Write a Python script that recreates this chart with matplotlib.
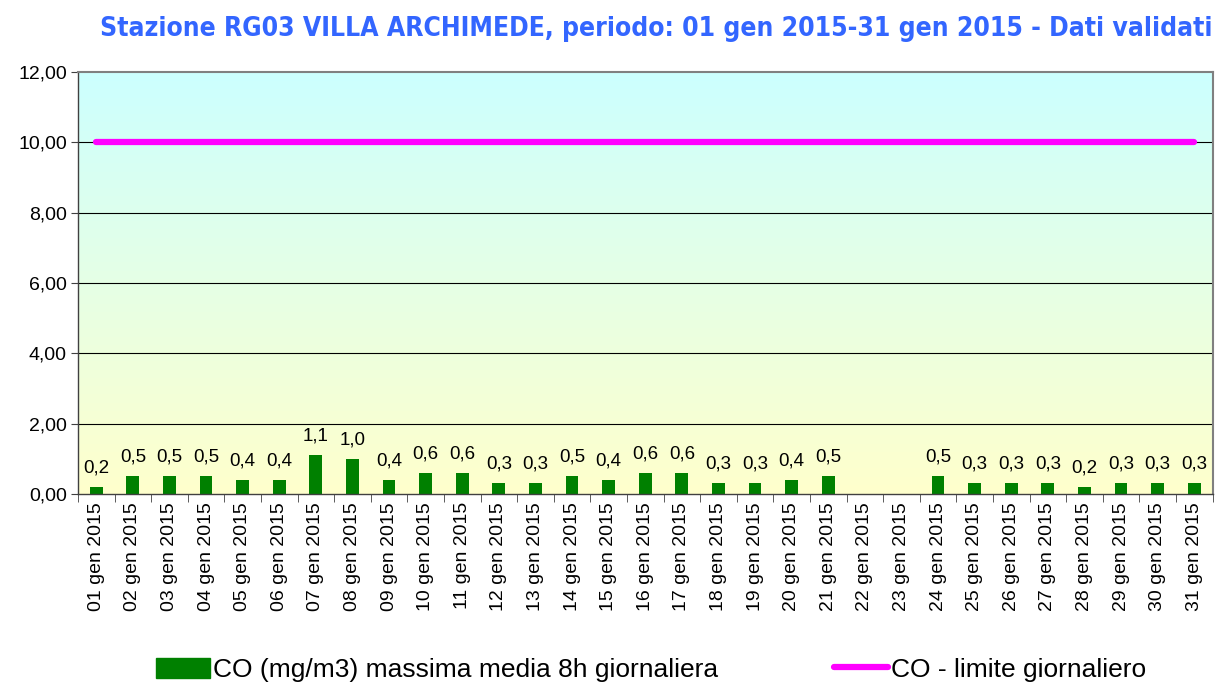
import numpy as np
import matplotlib.pyplot as plt
from matplotlib.colors import LinearSegmentedColormap
from matplotlib.lines import Line2D
from matplotlib.patches import Patch

# Data
days = [f"{d:02d} gen 2015" for d in range(1, 32)]
co_max8h = [0.2, 0.5, 0.5, 0.5, 0.4, 0.4, 1.1, 1.0, 0.4, 0.6,
            0.6, 0.3, 0.3, 0.5, 0.4, 0.6, 0.6, 0.3, 0.3, 0.4,
            0.5, None, None, 0.5, 0.3, 0.3, 0.3, 0.2, 0.3, 0.3, 0.3]
limit = [10.0] * 31

TITLE = "Stazione RG03 VILLA ARCHIMEDE, periodo: 01 gen 2015-31 gen 2015 - Dati validati"

fig = plt.figure(figsize=(12.26, 6.85), dpi=100)
ax = fig.add_axes([0.0636, 0.279, 0.9254, 0.616])

x = np.arange(len(days))
ax.set_xlim(-0.5, len(days) - 0.5)
ax.set_ylim(0, 12)

# gradient background
cmap = LinearSegmentedColormap.from_list("bg", ["#FFFFCC", "#CCFFFF"])
grad = np.linspace(0, 1, 256).reshape(-1, 1)
ax.imshow(grad, aspect="auto", cmap=cmap, origin="lower",
          extent=(-0.5, len(days) - 0.5, 0, 12), zorder=0)

for yv in [2, 4, 6, 8, 10]:
    ax.axhline(yv, color="black", lw=0.8, zorder=1)

vals = np.array([np.nan if v is None else v for v in co_max8h])
ax.bar(x, np.nan_to_num(vals), width=0.35, color="#008000", zorder=2)
for xi, v in zip(x, co_max8h):
    if v is None:
        continue
    ax.text(xi, v + 0.3, f"{v:.1f}".replace(".", ","), ha="center",
            va="bottom", fontsize=13.5, family="Liberation Sans", zorder=4)

ax.plot(x, limit, color="#FF00FF", lw=4.5, solid_capstyle="round", zorder=3)

ax.set_yticks(range(0, 13, 2))
ax.set_yticklabels([f"{v},00" for v in range(0, 13, 2)], fontsize=14,
                   family="Liberation Sans")
ax.set_xticks(x)
ax.set_xticklabels(days, rotation=90, fontsize=14, family="Liberation Sans")
ax.tick_params(axis="x", length=0, pad=6)
ax.set_xticks(np.arange(-0.5, len(days)), minor=True)
ax.tick_params(axis="x", which="minor", length=6, direction="out", color="#404040")
ax.tick_params(axis="y", length=5, direction="out", color="#404040", pad=3)

for s in ax.spines.values():
    s.set_color("#808080")
    s.set_linewidth(1.5)
ax.spines["left"].set_color("#404040")
ax.spines["left"].set_linewidth(1)
ax.spines["bottom"].set_color("#404040")
ax.spines["bottom"].set_linewidth(1)

fig.text(0.989, 0.957, TITLE, ha="right", va="center", fontsize=19,
         fontweight="bold", color="#3366FF", family="DejaVu Sans",
         fontstretch="condensed")

handles = [Patch(color="#008000"), Line2D([0], [0], color="#FF00FF", lw=4.5, solid_capstyle="round")]
labels = ["CO (mg/m3) massima media 8h giornaliera", "CO - limite giornaliero"]
fig.legend(handles, labels, loc="center", bbox_to_anchor=(0.531, 0.022), ncol=2,
           frameon=False, handlelength=2.05, handleheight=0.8,
           handletextpad=0.1, columnspacing=4.4,
           prop={"family": "Liberation Sans", "size": 19})

fig.savefig("out.png", dpi=100)
